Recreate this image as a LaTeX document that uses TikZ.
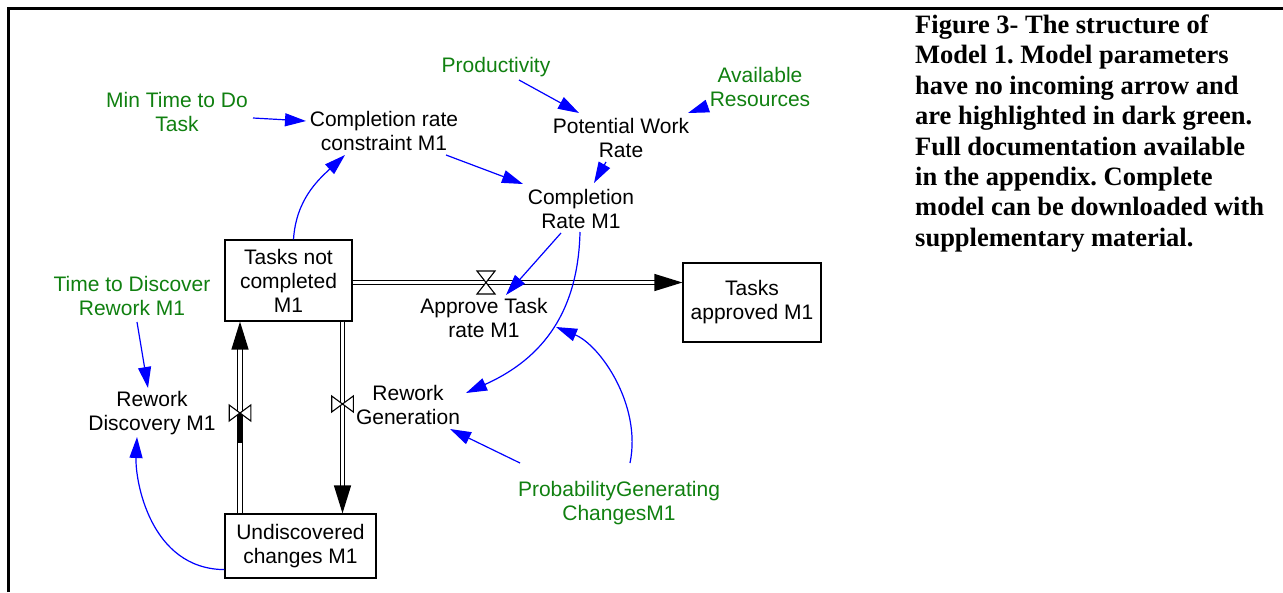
\documentclass[tikz,border=0pt]{standalone}
\usepackage{fontspec}
\setmainfont{Liberation Sans}
\newfontfamily\capfont{Liberation Serif}
\usetikzlibrary{arrows.meta,calc}
\frenchspacing
\definecolor{parmgreen}{RGB}{16,128,16}
\definecolor{linkblue}{RGB}{0,0,255}
\tikzset{
  stock/.style={draw,line width=1.2pt,align=center,inner sep=0pt},
  aux/.style={align=center,inner sep=0pt},
  parm/.style={aux,text=parmgreen},
  link/.style={draw=linkblue,line width=1.2pt,-{Triangle[length=21pt,width=13pt]}},
  pipe/.style={double,double distance=3.2pt,line width=1.3pt,-{Triangle[length=28pt,width=17pt]}},
  valve/.style={draw,fill=white,line width=1.1pt}
}
\begin{document}
\begin{tikzpicture}[x=1pt,y=-1pt,font=\fontsize{21}{24}\selectfont]
\useasboundingbox (0,0) rectangle (1283,592);
% frame
\draw[line width=2.6pt] (8.7,592) -- (8.7,8.7) -- (1283,8.7);
% stocks
\node[stock,minimum width=127pt,minimum height=81pt] (tnc) at (288.5,280.5) {Tasks not\\completed\\M1};
\node[stock,minimum width=138pt,minimum height=79pt] (ta) at (752,302.5) {Tasks\\approved M1};
\node[stock,minimum width=151pt,minimum height=64pt] (uc) at (300.5,546) {Undiscovered\\changes M1};
% variables
\node[aux] (crc) at (384,131) {Completion rate\\constraint M1};
\node[aux] (pwr) at (621,138) {Potential Work\\Rate};
\node[aux] (crm) at (581,209) {Completion\\Rate M1};
\node[aux] (atr) at (484,318) {Approve Task\\rate M1};
\node[aux] (rg) at (408,405) {Rework\\Generation};
\node[aux] (rd) at (152,413) {Rework\\Discovery M1};
% parameters
\node[parm] (mtd) at (177,112) {Min Time to Do\\Task};
\node[parm] (prod) at (496,67) {Productivity};
\node[parm] (avr) at (760,87) {Available\\Resources};
\node[parm] (ttd) at (132,296) {Time to Discover\\Rework M1};
\node[parm] (pgc) at (619,503) {ProbabilityGenerating\\ChangesM1};
% flows
\coordinate (av) at (486,282.5);
\coordinate (rv) at (342.5,404);
\coordinate (dv) at (240,413);
\draw[pipe] ($(tnc.east)+(0,2)$) -- ($(ta.west)+(0,-20)$);
\draw[pipe] ($(tnc.south)+(54,0)$) -- ($(uc.north)+(42,0)$);
\draw[pipe] ($(uc.north)+(-60.5,0)$) -- ($(tnc.south)+(-48.5,0)$);
\fill (237.5,413) rectangle (242.5,443);
\draw[valve,shift={(av)}] (-9,-11.5) -- (9,-11.5) -- (-9,11.5) -- (9,11.5) -- cycle;
\draw[valve,shift={(rv)}] (-10.8,-8) -- (-10.8,8) -- (10.8,-8) -- (10.8,8) -- cycle;
\draw[valve,shift={(dv)}] (-10.8,-8) -- (-10.8,8) -- (10.8,-8) -- (10.8,8) -- cycle;
% links
\draw[link] ($(mtd)+(76,6)$) -- ($(crc)+(-78,-10)$);
\draw[link] ($(tnc.north)+(5,0)$) .. controls (296,200) and (318,180) .. ($(crc)+(-39,24)$);
\draw[link] ($(prod)+(23,13)$) -- ($(pwr)+(-42,-25)$);
\draw[link] ($(avr)+(-52,19)$) -- ($(pwr)+(67,-25)$);
\draw[link] ($(pwr)+(-15,24)$) -- ($(crm)+(13,-26)$);
\draw[link] ($(crc)+(62,24)$) -- ($(crm)+(-58,-25)$);
\draw[link] ($(crm)+(-20,24)$) -- ($(atr)+(22,-23)$);
\draw[link] ($(crm)+(-1,23)$) .. controls (578,320) and (535,362) .. ($(rg)+(58,-12)$);
\draw[link] ($(pgc)+(-99,-40)$) -- ($(rg)+(42,24)$);
\draw[link] ($(pgc)+(11,-40)$) .. controls (642,405) and (600,345) .. ($(atr)+(72,9)$);
\draw[link] ($(ttd)+(5,26)$) -- ($(rd)+(-4,-25)$);
\draw[link] ($(uc.south west)+(0,-9)$) .. controls (150,569) and (135,480) .. ($(rd)+(-15,24)$);
% caption
\node[anchor=north west,align=left,inner sep=0pt,font=\capfont\bfseries\fontsize{26.5}{30.4}\selectfont] (cap) at (915,14.7)
  {Figure 3- The structure of\\Model 1. Model parameters\\have no incoming arrow and\\are highlighted in dark green.\\Full documentation available\\in the appendix. Complete\\model can be downloaded with\\supplementary material.};
\end{tikzpicture}
\end{document}
